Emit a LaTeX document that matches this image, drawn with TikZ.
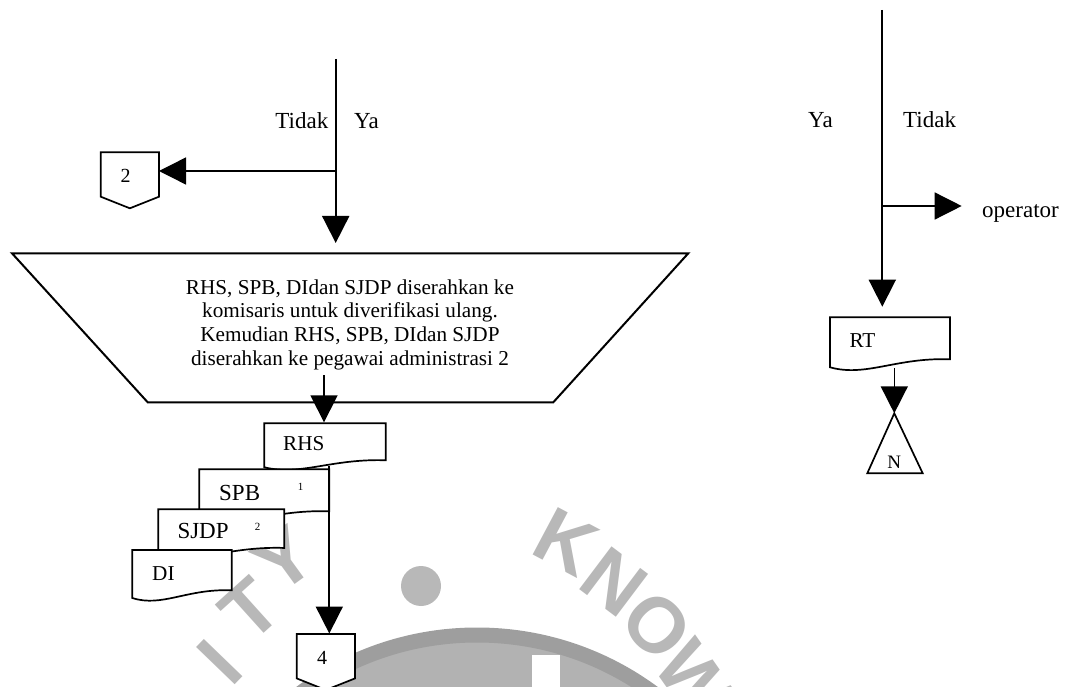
\documentclass[tikz,border=0pt]{standalone}
\usepackage{fontspec}
\setmainfont{Liberation Serif}
\newfontfamily\wmfont{Liberation Sans}
\usetikzlibrary{arrows.meta,calc}

\definecolor{wmtext}{gray}{0.72}
\definecolor{wmring}{gray}{0.62}
\definecolor{wminner}{gray}{0.70}

\tikzset{
  flow/.style={line width=1.8pt, -{Triangle[length=27pt,width=27pt]}},
  shapeline/.style={draw, line width=1.7pt, fill=white, line join=miter},
  lbl/.style={inner sep=0pt, font=\fontsize{23}{25}\selectfont},
  txt/.style={inner sep=0pt, font=\fontsize{21.2}{24}\selectfont},
  bigtxt/.style={inner sep=0pt, font=\fontsize{23}{26}\selectfont},
  suptxt/.style={inner sep=0pt, font=\fontsize{11}{12}\selectfont},
  wmletter/.style={inner sep=0pt, text=wmtext, font=\wmfont\bfseries\fontsize{78}{78}\selectfont},
  % document symbol: width, height (left bottom corner), wavy lower edge
  pics/docshape/.style n args={2}{code={
    \draw[shapeline] (0,0) -- (#1,0) -- (#1,0.84*#2)
      .. controls (0.55*#1,0.80*#2) and (0.30*#1,1.20*#2) .. (0,#2) -- cycle;
  }},
  % off-page connector: width, side height, tip height
  pics/offpage/.style n args={3}{code={
    \draw[shapeline] (0,0) -- (#1,0) -- (#1,#2) -- (0.5*#1,#3) -- (0,#2) -- cycle;
  }},
}

\begin{document}
\begin{tikzpicture}[x=1pt,y=-1pt]
\useasboundingbox (0,0) rectangle (1072,687);

% ---------- background emblem ----------
\begin{scope}
  \clip (0,0) rectangle (1072,687);
  \fill[wminner] (477,932) circle (290);
  \draw[wmring, line width=15pt] (477,932) circle (297);
  \fill[white] (532,655) rectangle (560,700);
  \fill[wmtext] (421,586) circle (20);
  \node[wmletter, rotate=46] (wmI) at (220,662) {I};
  \node[wmletter, rotate=42] (wmT) at (250,610) {T};
  \node[wmletter, rotate=36] (wmY) at (284,560) {Y};
  \node[wmletter, rotate=-28] (wmK) at (566,542) {K};
  \node[wmletter, rotate=-37] (wmN) at (614,582) {N};
  \node[wmletter, rotate=-46] (wmO) at (657,626) {O};
  \node[wmletter, rotate=-55] (wmW) at (695,680) {W};
\end{scope}

% ---------- left column ----------
\coordinate (topL) at (335.7,59);
\coordinate (splitL) at (335.7,171);
\coordinate (trapIn) at (335.7,243);

% off-page connector 2
\pic at (100.7,152.3) {offpage={58.3}{44.4}{56}};
\coordinate (offTwo) at (159,171);
\node[lbl, font=\fontsize{20}{22}\selectfont, anchor=base] (offTwoTxt) at (125.7,182.7) {2};

\draw[flow] (topL) -- (trapIn);
\draw[flow, line width=1.4pt] (splitL) -- (offTwo);
\node[lbl, anchor=base east] (tidakL) at (328.5,128.3) {Tidak};
\node[lbl, anchor=base west] (yaL) at (354,128.3) {Ya};

% manual operation (trapezoid)
\draw[shapeline, line width=2pt] (12,253.3) -- (688.3,253.3) -- (553.3,402.3) -- (147.7,402.3) -- cycle;
\node[txt, anchor=base] (trapA) at (350,294.3) {RHS, SPB, DIdan SJDP diserahkan ke};
\node[txt, anchor=base] (trapB) at (350,318) {komisaris untuk diverifikasi ulang.};
\node[txt, anchor=base] (trapC) at (350,341.7) {Kemudian RHS, SPB, DIdan SJDP};
\node[txt, anchor=base] (trapD) at (350,365.4) {diserahkan ke pegawai administrasi 2};

\coordinate (trapOut) at (324,375);
\coordinate (rhsIn) at (324,422.3);
\draw[flow] (trapOut) -- (rhsIn);

% document stack
\pic at (264.3,423.3) {docshape={121.4}{44}};
\node[txt, anchor=base west] (rhsTxt) at (283,450.7) {RHS};
\pic at (199.3,469.3) {docshape={130}{50}};
\node[bigtxt, anchor=base west] (spbTxt) at (219,500.7) {SPB};
\node[suptxt, anchor=base] (spbSup) at (300.7,490) {1};
\pic at (158.3,509.3) {docshape={126}{46}};
\node[bigtxt, anchor=base west] (sjdpTxt) at (177.3,538.5) {SJDP};
\node[suptxt, anchor=base] (sjdpSup) at (257.7,530) {2};
\pic at (132.3,550) {docshape={99.4}{48}};
\node[txt, anchor=base west] (diTxt) at (152,580) {DI};

\coordinate (rhsOut) at (329.3,466);
\coordinate (offFourIn) at (329.3,633.5);
\draw[flow] (rhsOut) -- (offFourIn);

% off-page connector 4
\pic at (296.7,634) {offpage={58.3}{44.4}{56}};
\node[lbl, font=\fontsize{20}{22}\selectfont, anchor=base] (offFourTxt) at (322,664) {4};

% ---------- right column ----------
\coordinate (topR) at (882.3,10);
\coordinate (splitR) at (882.3,206);
\coordinate (rtIn) at (882.3,306.7);
\coordinate (opOut) at (961.7,206);
\draw[flow] (topR) -- (rtIn);
\draw[flow, line width=1.4pt] (splitR) -- (opOut);
\node[lbl, anchor=base west] (yaR) at (808,128) {Ya};
\node[lbl, anchor=base west] (tidakR) at (903,128) {Tidak};
\node[lbl, anchor=base west] (operator) at (982,218) {operator};

\pic at (830,317.3) {docshape={120}{50}};
\node[txt, anchor=base west] (rtTxt) at (849.3,347.3) {RT};

% off-line storage triangle
\draw[shapeline] (894.3,413.3) -- (922.7,473.3) -- (867.3,473.3) -- cycle;
\coordinate (storeApex) at (894.3,413.3);
\node[lbl, font=\fontsize{19}{21}\selectfont, anchor=base] (nTxt) at (894.3,468) {N};
\coordinate (rtOut) at (894.3,368);
\draw[flow, line width=1.6pt] (rtOut) -- (storeApex);

\end{tikzpicture}
\end{document}
